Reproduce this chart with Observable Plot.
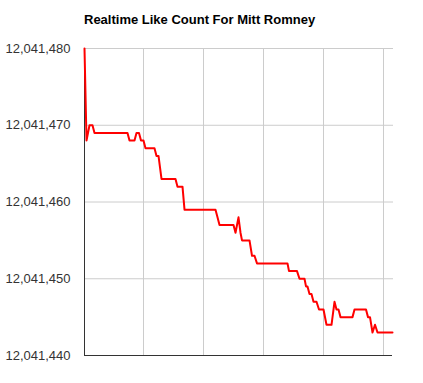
<!DOCTYPE html>
<html>
<head>
<meta charset="utf-8">
<script src="https://cdn.jsdelivr.net/npm/d3@7"></script>
<script src="https://cdn.jsdelivr.net/npm/@observablehq/plot@0.6"></script>
<style>
  html, body { margin: 0; padding: 0; background: #fff; }
  #title { box-sizing: border-box; height: 36px; padding: 12px 0 0 84px; font: bold 13px "Liberation Sans", Arial, sans-serif; line-height: 16px; color: #000; }
</style>
</head>
<body>
<div id="title">Realtime Like Count For Mitt Romney</div>
<div id="chart"></div>
<script>
// elapsed sample time (arbitrary units) and like counts
const sampleTimes = [0, 2, 5, 8, 10, 43, 45, 50, 52, 54.5, 56.5, 59, 61, 70, 72, 74, 77, 91, 93, 98, 100, 131, 133, 135, 149, 151, 154, 156, 157.5, 165, 167.5, 170, 172.5, 203, 204.5, 212.5, 215, 220, 221.5, 223, 225, 227, 229, 232, 234.5, 239, 242, 247, 250, 252, 254, 256, 268, 270, 281.5, 283.5, 285.5, 288, 290.5, 293, 308];
const likeCounts = [12041480, 12041468, 12041470, 12041470, 12041469, 12041469, 12041468, 12041468, 12041469, 12041469, 12041468, 12041468, 12041467, 12041467, 12041466, 12041466, 12041463, 12041463, 12041462, 12041462, 12041459, 12041459, 12041458, 12041457, 12041457, 12041456, 12041458, 12041456, 12041455, 12041455, 12041453, 12041453, 12041452, 12041452, 12041451, 12041451, 12041450, 12041450, 12041449, 12041449, 12041448, 12041448, 12041447, 12041447, 12041446, 12041446, 12041444, 12041444, 12041447, 12041446, 12041446, 12041445, 12041445, 12041446, 12041446, 12041445, 12041445, 12041443, 12041444, 12041443, 12041443];
const yTicks = [12041440, 12041450, 12041460, 12041470, 12041480];
const xGridTicks = [59, 119, 179, 239, 299];
const xDomain = [0, 308];

const data = sampleTimes.map((t, i) => ({t, count: likeCounts[i]}));

const chart = Plot.plot({
  width: 423,
  height: 347,
  marginTop: 12,
  marginBottom: 28,
  marginLeft: 84,
  marginRight: 31,
  style: {fontFamily: "'Liberation Sans', Arial, sans-serif", fontSize: "13px", color: "#333", background: "#fff"},
  x: {domain: xDomain, axis: null},
  y: {domain: [12041440, 12041480], ticks: yTicks, tickFormat: d3.format(","), tickSize: 0, tickPadding: 14, label: null},
  marks: [
    Plot.ruleY(yTicks.slice(1), {stroke: "#ccc", strokeWidth: 1, x1: 0, x2: 309}),
    Plot.ruleX(xGridTicks, {stroke: "#ccc", strokeWidth: 1}),
    Plot.ruleX([0], {stroke: "#333", strokeWidth: 1}),
    Plot.ruleY([12041440], {stroke: "#333", strokeWidth: 1}),
    Plot.axisY({ticks: yTicks, tickFormat: d3.format(","), tickSize: 0, tickPadding: 14, label: null}),
    Plot.line(data, {x: "t", y: "count", stroke: "#ff0000", strokeWidth: 2, strokeLinejoin: "round"})
  ]
});
document.getElementById("chart").appendChild(chart);
</script>
</body>
</html>
